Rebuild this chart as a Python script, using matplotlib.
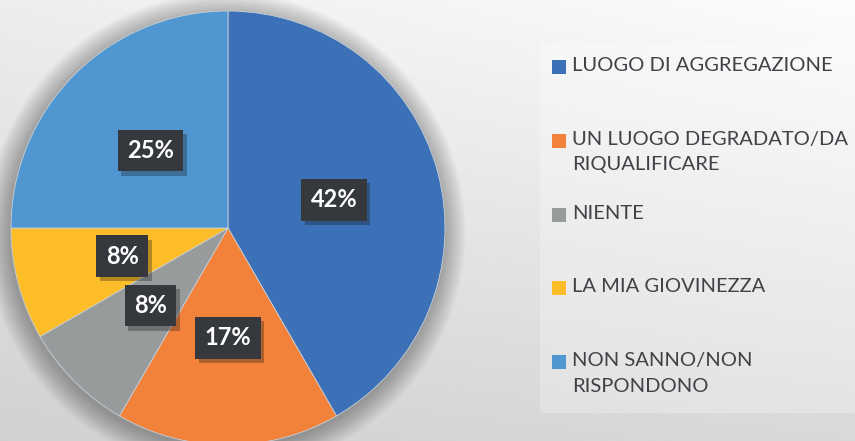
import numpy as np
import matplotlib
matplotlib.use('Agg')
import matplotlib.pyplot as plt
import matplotlib.patheffects as pe
from matplotlib.patches import Rectangle, Circle

categorie = ['LUOGO DI AGGREGAZIONE', 'UN LUOGO DEGRADATO/DA\nRIQUALIFICARE', 'NIENTE',
             'LA MIA GIOVINEZZA', 'NON SANNO/NON\nRISPONDONO']
risposte = [5, 2, 1, 1, 3]
etichette = ['42%', '17%', '8%', '8%', '25%']
colori = ['#3c71b8', '#f2823a', '#989b9b', '#fdbd28', '#5097d1']

plt.rcParams['font.family'] = ['Lato', 'DejaVu Sans']

fig = plt.figure(figsize=(8.55, 4.41), dpi=100)

# sfondo sfumato
sfondo = fig.add_axes([0, 0, 1, 1], zorder=-10)
xx, yy = np.meshgrid(np.linspace(0, 1, 200), np.linspace(0, 1, 200))
top = 0.93 + 0.06 * xx
bot = 0.82 + 0.03 * xx
grad = top * (1 - yy) + bot * yy
sfondo.imshow(grad, cmap='gray', vmin=0, vmax=1, extent=[0, 1, 0, 1], aspect='auto')
sfondo.axis('off')

# riquadro legenda
fig.patches.append(Rectangle((540 / 855, 1 - 413 / 441), 315 / 855, 369 / 441,
                             transform=fig.transFigure, facecolor='white', alpha=0.25,
                             edgecolor='none', zorder=-5))

# torta
cx, cy, r = 228, 228, 217
ax = fig.add_axes([(cx - r) / 855, (441 - cy - r) / 441, 2 * r / 855, 2 * r / 441])
for k in range(14):
    ax.add_patch(Circle((-0.01, -0.02), 1.0 + 0.008 * k, color='black', alpha=0.022, lw=0,
                        zorder=0, clip_on=False))
wedges, _ = ax.pie(risposte, colors=colori, startangle=90, counterclock=False, radius=1,
                   wedgeprops=dict(linewidth=0.6, edgecolor='#c8d0d8'))
for w in wedges:
    w.set_zorder(2)
for w, testo in zip(wedges, etichette):
    ang = np.deg2rad((w.theta1 + w.theta2) / 2)
    x, y = 0.505 * np.cos(ang), 0.505 * np.sin(ang)
    t = ax.text(x, y, testo, ha='center', va='center', fontsize=17, fontweight='bold',
                color='white', zorder=4,
                bbox=dict(boxstyle='square,pad=0.4', facecolor='#35393d', edgecolor='none'))
    t.get_bbox_patch().set_path_effects([pe.SimplePatchShadow(offset=(2.5, -3), alpha=0.3),
                                         pe.Normal()])
ax.set_xlim(-1, 1)
ax.set_ylim(-1, 1)
ax.axis('off')

# legenda
for i, (nome, col) in enumerate(zip(categorie, colori)):
    y0 = 67 + 73.8 * i
    fig.patches.append(Rectangle((552 / 855, 1 - (y0 + 7) / 441), 14 / 855, 14 / 441,
                                 transform=fig.transFigure, facecolor=col, edgecolor='none'))
    fig.text(572 / 855, 1 - (y0 - 10) / 441, nome, ha='left', va='top', fontsize=14.5,
             color='#3f4246', linespacing=1.62)

fig.savefig('out.png', dpi=100)
